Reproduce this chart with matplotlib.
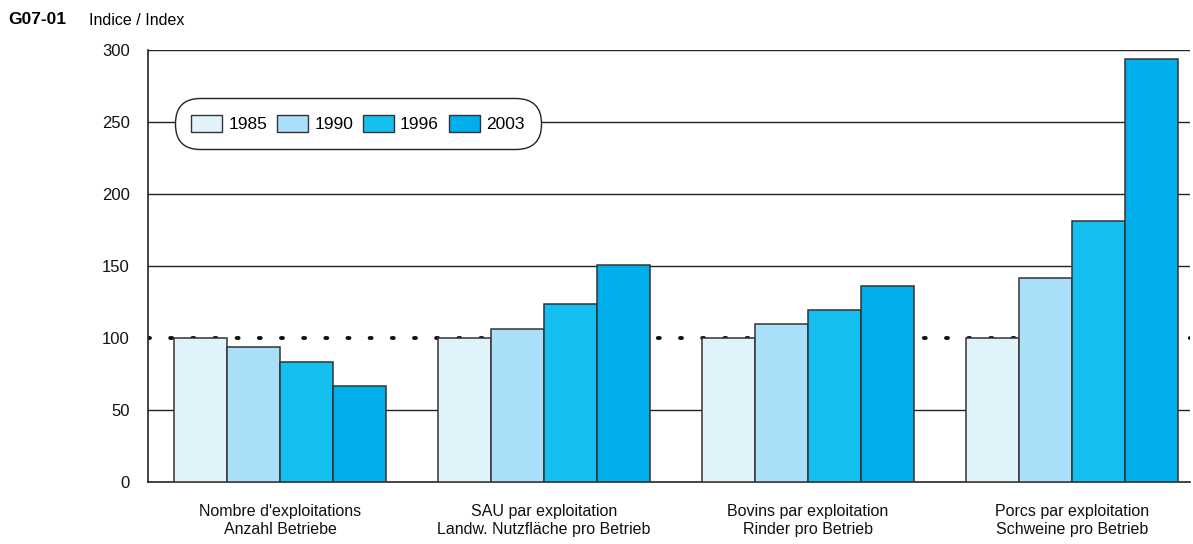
import matplotlib.pyplot as plt
import numpy as np
from matplotlib.patches import Patch

plt.rcParams['font.family'] = ['Liberation Sans', 'DejaVu Sans']

categories = ["Nombre d'exploitations\nAnzahl Betriebe",
              "SAU par exploitation\nLandw. Nutzfläche pro Betrieb",
              "Bovins par exploitation\nRinder pro Betrieb",
              "Porcs par exploitation\nSchweine pro Betrieb"]
years = ['1985', '1990', '1996', '2003']
v1985 = [100, 100, 100, 100]
v1990 = [93.5, 106, 109.5, 142]
v1996 = [83, 123.5, 119.5, 181]
v2003 = [67, 150.5, 136, 293.5]
yticks = [0, 50, 100, 150, 200, 250, 300]

colors = ['#E0F3FA', '#A9DFF8', '#15C0F0', '#00AEEB']
edge = '#333333'

fig = plt.figure(figsize=(11.93, 5.44), dpi=100)
ax = fig.add_axes([0.124, 0.114, 0.8735, 0.794])

x = np.arange(len(categories))
w = 0.2
series = [v1985, v1990, v1996, v2003]
for i, vals in enumerate(series):
    ax.bar(x + (i - 1.5) * w, vals, w, color=colors[i], edgecolor=edge,
           linewidth=1.1, zorder=3)

# grid lines (100 drawn dotted instead)
for t in yticks[1:]:
    if t == 100:
        continue
    ax.axhline(t, color='#222222', linewidth=1.0, zorder=1)
ax.axhline(100, color='#111111', linewidth=2.8, linestyle=(0, (0.5, 5.2)),
           dash_capstyle='round', zorder=2)

ax.set_xlim(-0.5, 3.447)
ax.set_ylim(0, 300)
ax.set_yticks(yticks)
ax.set_yticklabels([str(t) for t in yticks], fontsize=12)
ax.set_xticks(x)
ax.set_xticklabels(categories, fontsize=11.5, linespacing=1.3)
ax.tick_params(axis='both', length=0, colors='#111111')
ax.tick_params(axis='y', pad=13)
ax.tick_params(axis='x', pad=15.5)
for s in ['top', 'right']:
    ax.spines[s].set_visible(False)
for s in ['left', 'bottom']:
    ax.spines[s].set_color('#222222')
    ax.spines[s].set_linewidth(1.2)

handles = [Patch(facecolor=c, edgecolor=edge, linewidth=1.0) for c in colors]
leg = ax.legend(handles, years, ncol=4, loc='center left',
                bbox_to_anchor=(0.0259, 0.83), fontsize=12.5, frameon=True,
                handlelength=1.78, handleheight=1.15, handletextpad=0.35,
                columnspacing=0.57, borderpad=0.95, borderaxespad=0,
                fancybox=True)
frame = leg.get_frame()
frame.set_boxstyle('round', pad=0.0, rounding_size=1.45)
frame.set_edgecolor('#222222')
frame.set_linewidth(1.0)
frame.set_facecolor('white')
frame.set_alpha(1)
leg.set_zorder(5)

fig.text(0.007, 0.965, 'G07-01', fontsize=12.5, fontweight='bold', va='center')
fig.text(0.075, 0.963, 'Indice / Index', fontsize=11.5, va='center')

fig.savefig('out.png', dpi=100)
